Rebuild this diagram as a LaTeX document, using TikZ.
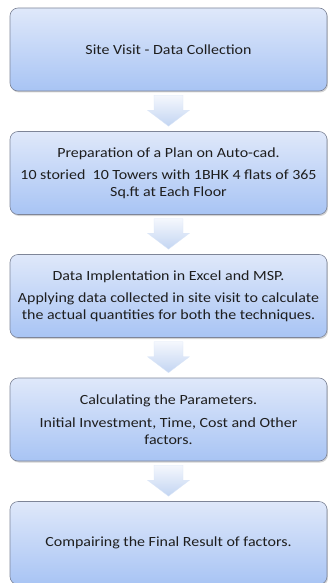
\documentclass[tikz,border=0pt]{standalone}
\usepackage{fontspec}
\setmainfont{Carlito}[FakeStretch=1.14]
\usetikzlibrary{calc,shadows}
\definecolor{boxtop}{HTML}{DFE8FA}
\definecolor{boxbot}{HTML}{A8C4F4}
\definecolor{boxline}{HTML}{7E8598}
\definecolor{arrtop}{HTML}{F4F7FD}
\definecolor{arrbot}{HTML}{C3D5F2}
\definecolor{txt}{HTML}{1E1E1E}
\tikzset{
  stagebox/.style={draw=boxline, line width=0.6pt, rounded corners=8pt,
    top color=boxtop, bottom color=boxbot,
    minimum width=317pt, minimum height=83pt,
    inner xsep=0pt, align=center, text=txt,
    font=\fontsize{14}{16.7}\selectfont,
    drop shadow={shadow xshift=1pt, shadow yshift=-1.5pt, opacity=0.35}},
  blockarrow/.style={top color=arrtop, bottom color=arrbot, draw=arrbot!60!white, line width=0.3pt}
}
% block arrow from the bottom of one box to the top of the next
\newcommand\flowarrow[2]{%
  \path[blockarrow] ($(#1.south)+(-14.5,-4)$) -- ($(#1.south)+(14.5,-4)$)
    -- ($(#2.north)+(14.5,21)$) -- ($(#2.north)+(21,21)$)
    -- ($(#2.north)+(0,5)$) -- ($(#2.north)+(-21,21)$)
    -- ($(#2.north)+(-14.5,21)$) -- cycle;}
\begin{document}
\begin{tikzpicture}[x=1pt,y=1pt]
\useasboundingbox (0,0) rectangle (328,-583);
\node[stagebox] (s1) at (168.5,-49.5) {Site Visit - Data Collection};
\node[stagebox] (s2) at (168.5,-173) {Preparation of a Plan on Auto-cad.\\[6pt]
  10 storied\ \ 10 Towers with 1BHK 4 flats of 365\\ Sq.ft at Each Floor};
\node[stagebox] (s3) at (168.5,-296) {Data Implentation in Excel and MSP.\\[6pt]
  Applying data collected in site visit to calculate\\ the actual quantities for both the techniques.};
\node[stagebox] (s4) at (168.5,-419.5) {Calculating the Parameters.\\[6pt]
  Initial Investment, Time, Cost and Other\\ factors.};
\node[stagebox] (s5) at (168.5,-543) {Compairing the Final Result of factors.};
\flowarrow{s1}{s2}
\flowarrow{s2}{s3}
\flowarrow{s3}{s4}
\flowarrow{s4}{s5}
\end{tikzpicture}
\end{document}
